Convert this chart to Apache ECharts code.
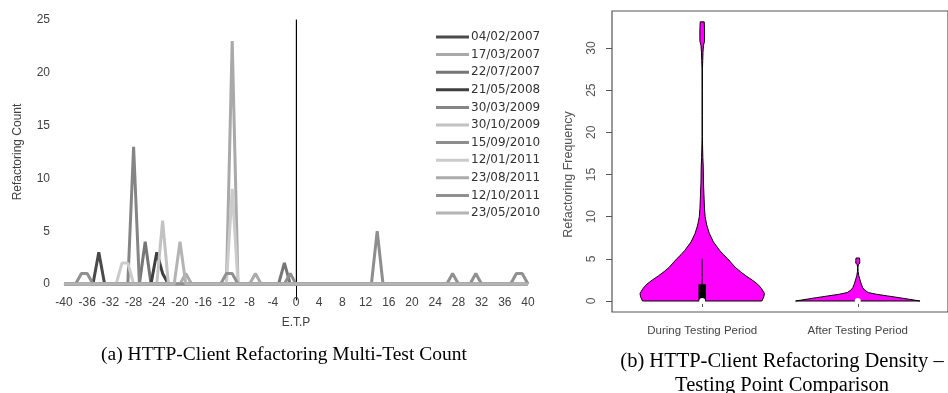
<!DOCTYPE html>
<html>
<head>
<meta charset="utf-8">
<script src="https://cdn.jsdelivr.net/npm/echarts@6/dist/echarts.min.js"></script>
<style>
html, body { margin: 0; padding: 0; background: #ffffff; }
#chart { width: 948px; height: 393px; }
</style>
</head>
<body>
<div id="chart"></div>
<script>
// ---------- (a) refactoring count per E.T.P, one line per testing point ----------
const etp = [
  -40,-39,-38,-37,-36,-35,-34,-33,-32,-31,
  -30,-29,-28,-27,-26,-25,-24,-23,-22,-21,
  -20,-19,-18,-17,-16,-15,-14,-13,-12,-11,
  -10,-9,-8,-7,-6,-5,-4,-3,-2,-1,
  0,1,2,3,4,5,6,7,8,9,
  10,11,12,13,14,15,16,17,18,19,
  20,21,22,23,24,25,26,27,28,29,
  30,31,32,33,34,35,36,37,38,39,
  40
];

const testingPoints = [
  '04/02/2007', '17/03/2007', '22/07/2007', '21/05/2008', '30/03/2009', '30/10/2009',
  '15/09/2010', '12/01/2011', '23/08/2011', '12/10/2011', '23/05/2010'
];

const lineColors = [
  '#4a4a4a', '#a9a9a9', '#767676', '#3f3f3f', '#858585', '#c2c2c2',
  '#8e8e8e', '#cbcbcb', '#ababab', '#909090', '#b4b4b4'
];

const count_04_02_2007 = [
  0,0,0,0,0,0,3,0,0,0,
  0,0,0,0,0,0,0,0,0,0,
  0,0,0,0,0,0,0,0,0,0,
  0,0,0,0,0,0,0,0,0,0,
  0,0,0,0,0,0,0,0,0,0,
  0,0,0,0,0,0,0,0,0,0,
  0,0,0,0,0,0,0,0,0,0,
  0,0,0,0,0,0,0,0,0,0,
  0
];
const count_17_03_2007 = [
  0,0,0,0,0,0,0,0,0,0,
  0,0,0,0,0,0,0,0,0,0,
  0,0,0,0,0,0,0,0,0,23,
  0,0,0,0,0,0,0,0,0,0,
  0,0,0,0,0,0,0,0,0,0,
  0,0,0,0,0,0,0,0,0,0,
  0,0,0,0,0,0,0,0,0,0,
  0,0,0,0,0,0,0,0,0,0,
  0
];
const count_22_07_2007 = [
  0,0,0,0,0,0,0,0,0,0,
  0,0,0,0,4,0,0,0,0,0,
  0,0,0,0,0,0,0,0,0,0,
  0,0,0,0,0,0,0,0,2,0,
  0,0,0,0,0,0,0,0,0,0,
  0,0,0,0,0,0,0,0,0,0,
  0,0,0,0,0,0,0,0,0,0,
  0,0,0,0,0,0,0,0,0,0,
  0
];
const count_21_05_2008 = [
  0,0,0,0,0,0,0,0,0,0,
  0,0,0,0,0,0,3,1,0,0,
  0,0,0,0,0,0,0,0,0,0,
  0,0,0,0,0,0,0,0,0,0,
  0,0,0,0,0,0,0,0,0,0,
  0,0,0,0,0,0,0,0,0,0,
  0,0,0,0,0,0,0,0,0,0,
  0,0,0,0,0,0,0,0,0,0,
  0
];
const count_30_03_2009 = [
  0,0,0,0,0,0,0,0,0,0,
  0,0,13,0,0,0,0,0,0,0,
  0,0,0,0,0,0,0,0,0,0,
  0,0,0,0,0,0,0,0,0,0,
  0,0,0,0,0,0,0,0,0,0,
  0,0,0,0,0,0,0,0,0,0,
  0,0,0,0,0,0,0,0,0,0,
  0,0,0,0,0,0,0,0,0,0,
  0
];
const count_30_10_2009 = [
  0,0,0,0,0,0,0,0,0,0,
  0,0,0,0,0,0,0,6,0,0,
  0,0,0,0,0,0,0,0,0,0,
  0,0,0,0,0,0,0,0,0,0,
  0,0,0,0,0,0,0,0,0,0,
  0,0,0,0,0,0,0,0,0,0,
  0,0,0,0,0,0,0,0,0,0,
  0,0,0,0,0,0,0,0,0,0,
  0
];
const count_15_09_2010 = [
  0,0,0,0,0,0,0,0,0,0,
  0,0,0,0,0,0,0,0,0,0,
  0,0,0,0,0,0,0,0,0,0,
  0,0,0,0,0,0,0,0,0,1,
  0,0,0,0,0,0,0,0,0,0,
  0,0,0,0,5,0,0,0,0,0,
  0,0,0,0,0,0,0,0,0,0,
  0,0,0,0,0,0,0,0,0,0,
  0
];
const count_12_01_2011 = [
  0,0,0,0,0,0,0,0,0,0,
  2,2,0,0,0,0,0,0,0,0,
  0,0,0,0,0,0,0,0,0,9,
  0,0,0,0,0,0,0,0,0,0,
  0,0,0,0,0,0,0,0,0,0,
  0,0,0,0,0,0,0,0,0,0,
  0,0,0,0,0,0,0,0,0,0,
  0,0,0,0,0,0,0,0,0,0,
  0
];
const count_23_08_2011 = [
  0,0,0,0,0,0,0,0,0,0,
  0,0,0,0,0,0,0,0,0,0,
  0,1,0,0,0,0,0,0,0,0,
  0,0,0,1,0,0,0,0,0,0,
  0,0,0,0,0,0,0,0,0,0,
  0,0,0,0,0,0,0,0,0,0,
  0,0,0,0,0,0,0,0,0,0,
  0,0,0,0,0,0,0,0,0,0,
  0
];
const count_12_10_2011 = [
  0,0,0,1,1,0,0,0,0,0,
  0,0,0,0,0,0,0,0,0,0,
  0,0,0,0,0,0,0,0,1,1,
  0,0,0,0,0,0,0,0,0,0,
  0,0,0,0,0,0,0,0,0,0,
  0,0,0,0,0,0,0,0,0,0,
  0,0,0,0,0,0,0,1,0,0,
  0,1,0,0,0,0,0,0,1,1,
  0
];
const count_23_05_2010 = [
  0,0,0,0,0,0,0,0,0,0,
  0,0,0,0,0,0,0,0,0,0,
  4,0,0,0,0,0,0,0,0,0,
  0,0,0,0,0,0,0,0,0,0,
  0,0,0,0,0,0,0,0,0,0,
  0,0,0,0,0,0,0,0,0,0,
  0,0,0,0,0,0,0,0,0,0,
  0,0,0,0,0,0,0,0,0,0,
  0
];

const countSeries = [
  count_04_02_2007, count_17_03_2007, count_22_07_2007, count_21_05_2008,
  count_30_03_2009, count_30_10_2009, count_15_09_2010, count_12_01_2011,
  count_23_08_2011, count_12_10_2011, count_23_05_2010
];

// ---------- (b) violin plots of refactoring frequency ----------
const groups = ['During Testing Period', 'After Testing Period'];

// density outline: frequency levels and relative half-widths (1 = widest)
const duringLevels = [0, 0.5, 0.9, 1.5, 2, 2.5, 3, 3.5, 4, 4.5, 5, 5.5, 6, 7, 8, 9, 10, 11, 12, 14, 16, 17, 18.5, 19.5, 22, 25, 27.5, 28.5, 29.5, 30.3, 30.8, 32, 33.1];
const duringWidth  = [0.96, 0.99, 1.0, 0.95, 0.89, 0.80, 0.70, 0.61, 0.53, 0.47, 0.41, 0.34, 0.28, 0.18, 0.115, 0.073, 0.047, 0.036, 0.031, 0.02, 0.016, 0.01, 0.005, 0.002, 0.002, 0.002, 0.003, 0.008, 0.012, 0.02, 0.037, 0.038, 0.032];

const afterLevels = [0, 0.2, 0.4, 0.6, 0.8, 1.0, 1.3, 1.6, 2.0, 2.5, 3.0, 3.5, 4.0, 4.3, 4.5, 4.8, 5.1];
const afterWidth  = [1.0, 0.83, 0.66, 0.48, 0.30, 0.17, 0.11, 0.078, 0.057, 0.036, 0.016, 0.005, 0.003, 0.01, 0.032, 0.032, 0.028];

const boxQ1 = [0, 0];
const boxQ3 = [2, 0];
const boxMedian = [0, 0];
const whiskerHigh = [5, 0];

const violinProfiles = [
  { levels: duringLevels, width: duringWidth },
  { levels: afterLevels, width: afterWidth }
];

const VIOLIN_HALF = 0.4;   // widest half-width, in x units
const BOX_HALF = 0.024;    // half-width of the quartile box

function renderViolin(params, api) {
  const i = params.dataIndex;
  const pos = api.value(0);
  const prof = violinProfiles[i];
  const right = [], left = [];
  for (let k = 0; k < prof.levels.length; k++) {
    right.push(api.coord([pos + VIOLIN_HALF * prof.width[k], prof.levels[k]]));
    left.push(api.coord([pos - VIOLIN_HALF * prof.width[k], prof.levels[k]]));
  }
  const outline = right.concat(left.reverse());
  const children = [{
    type: 'polygon',
    shape: { points: outline },
    style: { fill: '#ff00ff', stroke: '#000000', lineWidth: 1 }
  }];
  const wTop = api.coord([pos, whiskerHigh[i]]);
  const wBot = api.coord([pos, boxQ3[i]]);
  children.push({
    type: 'line',
    shape: { x1: wTop[0], y1: wTop[1], x2: wBot[0], y2: wBot[1] },
    style: { stroke: '#000000', lineWidth: 1 }
  });
  const bTL = api.coord([pos - BOX_HALF, boxQ3[i]]);
  const bBR = api.coord([pos + BOX_HALF, boxQ1[i]]);
  if (bBR[1] - bTL[1] > 0) {
    children.push({
      type: 'rect',
      shape: { x: bTL[0], y: bTL[1], width: bBR[0] - bTL[0], height: bBR[1] - bTL[1] },
      style: { fill: '#000000' }
    });
  }
  const med = api.coord([pos, boxMedian[i]]);
  children.push({
    type: 'circle',
    shape: { cx: med[0], cy: med[1], r: 3 },
    style: { fill: '#ffffff' }
  });
  return { type: 'group', children: children };
}

const sansFont = 'Liberation Sans';

const lineSeries = countSeries.map((vals, s) => ({
  name: testingPoints[s],
  type: 'line',
  xAxisIndex: 0,
  yAxisIndex: 0,
  data: etp.map((x, k) => [x, vals[k]]),
  symbol: 'none',
  color: lineColors[s],
  lineStyle: { width: 3, color: lineColors[s] },
  z: 2
}));

const option = {
  animation: false,
  backgroundColor: '#ffffff',
  title: [
    {
      text: '(a) HTTP-Client Refactoring Multi-Test Count',
      left: 279, top: 340, textAlign: 'center',
      textStyle: { fontFamily: 'Liberation Serif', fontSize: 19.5, fontWeight: 'normal', color: '#000000' }
    },
    {
      text: '(b) HTTP-Client Refactoring Density –\nTesting Point Comparison',
      left: 777, top: 345, textAlign: 'center',
      textStyle: { fontFamily: 'Liberation Serif', fontSize: 20.5, fontWeight: 'normal', color: '#000000', lineHeight: 24 }
    }
  ],
  legend: {
    orient: 'vertical',
    left: 436, top: 31,
    padding: 0,
    itemWidth: 33, itemHeight: 3, itemGap: 5.6,
    icon: 'rect',
    data: testingPoints,
    textStyle: { fontFamily: 'DejaVu Sans', fontSize: 12, color: '#333333', padding: [0, 0, 0, -3] }
  },
  grid: [
    { left: 64, right: 420, top: 20, bottom: 109 },
    { left: 64, right: 420, top: 20, bottom: 93 },
    { left: 612, right: -11, top: 11, bottom: 81, show: true, borderColor: '#555555', borderWidth: 1.2, backgroundColor: 'transparent' },
    { left: 612, right: -11, top: 48, bottom: 92 }
  ],
  xAxis: [
    {
      gridIndex: 0, type: 'value', min: -40, max: 40, interval: 4,
      axisLine: { onZero: false, lineStyle: { color: '#bfbfbf', width: 1 } },
      axisTick: { show: false },
      splitLine: { show: false },
      axisLabel: { color: '#404040', fontFamily: sansFont, fontSize: 12, margin: 13 },
      name: 'E.T.P', nameLocation: 'middle', nameGap: 33,
      nameTextStyle: { color: '#404040', fontFamily: sansFont, fontSize: 12 }
    },
    { gridIndex: 1, type: 'value', min: -40, max: 40, show: false },
    { gridIndex: 2, type: 'value', min: 0, max: 1, show: false },
    {
      gridIndex: 3, type: 'value', min: 0.42, max: 2.58, offset: 11,
      axisLine: { show: false },
      axisTick: { show: true, length: 6, customValues: [1, 2], lineStyle: { color: '#555555' } },
      splitLine: { show: false },
      axisLabel: {
        customValues: [1, 2],
        formatter: v => groups[Math.round(v) - 1],
        color: '#444444', fontFamily: sansFont, fontSize: 11.5, margin: 13
      }
    }
  ],
  yAxis: [
    {
      gridIndex: 0, type: 'value', min: 0, max: 25, interval: 5,
      axisLine: { show: true, lineStyle: { color: '#bfbfbf', width: 1.5 } },
      axisTick: { show: false },
      splitLine: { show: false },
      axisLabel: { color: '#404040', fontFamily: sansFont, fontSize: 12, margin: 14 },
      name: 'Refactoring Count', nameLocation: 'middle', nameGap: 40,
      nameTextStyle: { color: '#404040', fontFamily: sansFont, fontSize: 12 }
    },
    {
      gridIndex: 1, type: 'value', min: 0, max: 1,
      axisLine: { show: true, onZero: true, lineStyle: { color: '#000000', width: 1 } },
      axisTick: { show: false }, axisLabel: { show: false }, splitLine: { show: false }
    },
    { gridIndex: 2, type: 'value', min: 0, max: 1, show: false },
    {
      gridIndex: 3, type: 'value', min: 0, max: 30, interval: 5,
      axisLine: { show: false },
      axisTick: { show: true, length: 6, lineStyle: { color: '#555555' } },
      splitLine: { show: false },
      axisLabel: { rotate: 90, color: '#555555', fontFamily: sansFont, fontSize: 12, margin: 14 },
      name: 'Refactoring Frequency', nameLocation: 'middle', nameGap: 37,
      nameTextStyle: { color: '#555555', fontFamily: sansFont, fontSize: 12.5 }
    }
  ],
  series: lineSeries.concat([{
    type: 'custom',
    xAxisIndex: 3,
    yAxisIndex: 3,
    clip: false,
    data: [[1], [2]],
    renderItem: renderViolin,
    z: 3
  }])
};

const chart = echarts.init(document.getElementById('chart'), null, { renderer: 'canvas' });
chart.setOption(option);
</script>
</body>
</html>
